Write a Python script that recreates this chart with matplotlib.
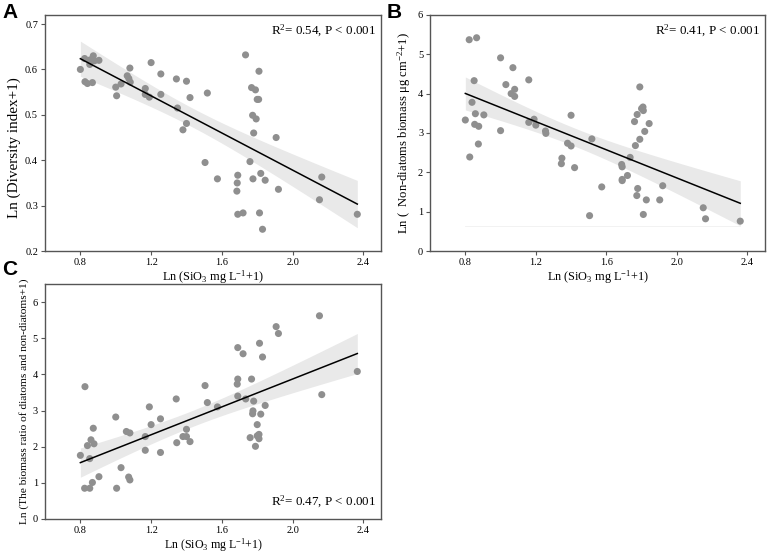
import numpy as np
import matplotlib
matplotlib.use("Agg")
import matplotlib.pyplot as plt

plt.rcParams["font.family"] = ["Liberation Serif", "DejaVu Serif"]
plt.rcParams["mathtext.fontset"] = "custom"
plt.rcParams["mathtext.rm"] = "Liberation Serif"
plt.rcParams["mathtext.it"] = "Liberation Serif:italic"

# ----------------------------------------------------------------------------------------------------------------------
# Data
# ----------------------------------------------------------------------------------------------------------------------
x_a = [0.80, 0.824, 0.826, 0.84, 0.853, 0.855, 0.868, 0.873, 0.88, 0.905, 1.0, 1.005, 1.03, 1.065, 1.074,
       1.08, 1.082, 1.167, 1.167, 1.19, 1.20, 1.255, 1.255, 1.343, 1.349, 1.38, 1.40, 1.40, 1.42, 1.505,
       1.518, 1.575, 1.69, 1.687, 1.685, 1.69, 1.72, 1.734, 1.759, 1.768, 1.774, 1.776, 1.78, 1.79, 1.794,
       1.80, 1.808, 1.81, 1.813, 1.82, 1.83, 1.845, 1.907, 1.92, 2.152, 2.165, 2.366]
y_a = [0.600, 0.624, 0.573, 0.569, 0.611, 0.621, 0.571, 0.630, 0.619, 0.620, 0.561, 0.542, 0.568, 0.586,
       0.580, 0.603, 0.572, 0.558, 0.545, 0.539, 0.615, 0.590, 0.545, 0.579, 0.515, 0.467, 0.574, 0.481,
       0.538, 0.395, 0.548, 0.359, 0.367, 0.350, 0.332, 0.281, 0.284, 0.632, 0.397, 0.560, 0.499, 0.359,
       0.460, 0.555, 0.491, 0.534, 0.534, 0.596, 0.284, 0.371, 0.248, 0.356, 0.450, 0.336, 0.313, 0.363,
       0.281]

x_b = [0.80, 0.822, 0.825, 0.838, 0.85, 0.853, 0.857, 0.864, 0.874, 0.876, 0.905, 1.0, 1.0, 1.03, 1.06,
       1.07, 1.08, 1.08, 1.16, 1.16, 1.19, 1.20, 1.255, 1.257, 1.345, 1.348, 1.38, 1.40, 1.40, 1.42, 1.505,
       1.518, 1.574, 1.687, 1.69, 1.69, 1.69, 1.72, 1.735, 1.76, 1.765, 1.773, 1.775, 1.778, 1.79, 1.79,
       1.80, 1.808, 1.81, 1.81, 1.818, 1.827, 1.843, 1.903, 1.92, 2.15, 2.163, 2.36]
y_b = [3.33, 5.37, 2.39, 3.78, 4.33, 3.22, 3.49, 5.42, 2.72, 3.17, 3.46, 3.06, 4.91, 4.23, 4.00, 4.66,
       4.11, 3.93, 4.35, 3.27, 3.35, 3.20, 3.05, 2.99, 2.22, 2.36, 2.74, 3.45, 2.67, 2.12, 0.90, 2.85, 1.63,
       2.20, 2.14, 1.82, 1.79, 1.92, 2.38, 3.29, 2.68, 1.41, 3.47, 1.59, 2.84, 4.17, 3.62, 3.66, 3.57, 0.93,
       3.04, 1.30, 3.24, 1.30, 1.66, 1.10, 0.82, 0.76]

x_c = [0.80, 0.826, 0.824, 0.84, 0.853, 0.853, 0.86, 0.868, 0.873, 0.877, 0.905, 1.0, 1.005, 1.03, 1.06,
       1.073, 1.08, 1.08, 1.167, 1.167, 1.19, 1.20, 1.253, 1.253, 1.342, 1.345, 1.38, 1.40, 1.40, 1.42,
       1.505, 1.518, 1.575, 1.687, 1.69, 1.69, 1.69, 1.72, 1.735, 1.76, 1.768, 1.774, 1.776, 1.78, 1.79,
       1.80, 1.80, 1.81, 1.81, 1.813, 1.82, 1.83, 1.845, 1.907, 1.92, 2.152, 2.165, 2.366]
y_c = [1.76, 3.66, 0.85, 2.03, 0.85, 1.67, 2.19, 1.01, 2.51, 2.08, 1.17, 2.82, 0.85, 1.42, 2.42, 1.16,
       2.38, 1.08, 1.90, 2.28, 3.10, 2.61, 2.77, 1.84, 3.32, 2.11, 2.28, 2.48, 2.28, 2.14, 3.69, 3.22, 3.10,
       3.73, 4.74, 3.87, 3.40, 4.57, 3.32, 2.25, 3.87, 2.91, 2.99, 3.26, 2.01, 2.61, 2.30, 2.34, 2.22, 4.86,
       2.90, 4.48, 3.14, 5.32, 5.13, 5.62, 3.44, 4.08]

stats_text = ["R$^2$= 0.54, P < 0.001", "R$^2$= 0.41, P < 0.001", "R$^2$= 0.47, P < 0.001"]
x_label = "Ln (SiO$_3$ mg L$^{-1}$+1)"
y_labels = ["Ln (Diversity index+1)",
            "Ln (  Non-diatoms biomass μg cm$^{-2}$+1)",
            "Ln (The biomass ratio of diatoms and non-diatoms+1)"]
x_ticks = [0.8, 1.2, 1.6, 2.0, 2.4]
y_ticks_list = [[0.2, 0.3, 0.4, 0.5, 0.6, 0.7], list(range(0, 7)), list(range(0, 7))]
y_lims = [(0.2, 0.72), (0, 6), (0, 6.5)]
panel_letters = ["A", "B", "C"]

# ----------------------------------------------------------------------------------------------------------------------
# Plot settings
# ----------------------------------------------------------------------------------------------------------------------
point_color = "#8f8f8f"
band_color = "#e9e9e9"
spine_color = "#555555"
positions = [
    [0.0586, 0.546, 0.4375, 0.427],
    [0.560, 0.546, 0.436, 0.427],
    [0.0586, 0.0615, 0.4375, 0.425],
]
ylabel_sizes = [10.9, 9.1, 8.2]
ylabel_x = [-0.07, -0.052, -0.047]
ylabel_y = [0.44, 0.5, 0.5]
xlabel_sizes = [8.8, 8.8, 8.6]
stat_pos = [(0.985, 0.965, "top"), (0.985, 0.04, "bottom")]
stat_pos = [stat_pos[0], stat_pos[0], stat_pos[1]]
letter_pos = [(0.013, 0.977), (0.513, 0.977), (0.013, 0.513)]


def fit_band(x, y, n_pts=100):
    x = np.asarray(x)
    y = np.asarray(y)
    n = len(x)
    slope, intercept = np.polyfit(x, y, 1)
    resid = y - (intercept + slope * x)
    s = np.sqrt(np.sum(resid ** 2) / (n - 2))
    xs = np.linspace(x.min(), x.max(), n_pts)
    ys = intercept + slope * xs
    se = s * np.sqrt(1.0 / n + (xs - x.mean()) ** 2 / np.sum((x - x.mean()) ** 2))
    t = 2.004
    return xs, ys, ys - t * se, ys + t * se


fig = plt.figure(figsize=(7.68, 5.53), dpi=100)
data = [(x_a, y_a), (x_b, y_b), (x_c, y_c)]

for i, (xv, yv) in enumerate(data):
    ax = fig.add_axes(positions[i])
    xs, ys, lo, hi = fit_band(xv, yv)
    ax.fill_between(xs, lo, hi, color=band_color, linewidth=0, zorder=1)
    ax.scatter(xv, yv, s=26, color=point_color, edgecolors="none", zorder=2)
    ax.plot(xs, ys, color="black", linewidth=1.1, zorder=3)
    if i == 1:
        # faint artefact line seen under the band in panel B
        ax.plot([min(xv), max(xv)], [0.64, 0.64], color="#f0f0f0", linewidth=0.6, zorder=1)

    ax.set_xlim(0.6, 2.5)
    ax.set_ylim(*y_lims[i])
    ax.set_xticks(x_ticks)
    ax.set_xticklabels([f"{t:.1f}" for t in x_ticks])
    ax.set_yticks(y_ticks_list[i])
    if i == 0:
        ax.set_yticklabels([f"{t:.1f}" for t in y_ticks_list[i]])
    ax.tick_params(direction="out", length=3, width=0.8, color=spine_color, labelsize=7.5, pad=2)
    for sp in ax.spines.values():
        sp.set_color(spine_color)
        sp.set_linewidth(1.0)
    ax.set_xlabel(x_label, fontsize=xlabel_sizes[i], labelpad=1)
    ax.set_ylabel(y_labels[i], fontsize=ylabel_sizes[i])
    ax.yaxis.set_label_coords(ylabel_x[i], ylabel_y[i])

    px, py, va = stat_pos[i]
    ax.text(px, py, stats_text[i], transform=ax.transAxes, ha="right", va=va, fontsize=9.4)

    lx, ly = letter_pos[i]
    fig.text(lx, ly, panel_letters[i], fontsize=15, fontweight="bold",
             family=["Liberation Sans", "DejaVu Sans"], ha="center", va="center")

fig.savefig("out.png", dpi=100, facecolor="white")
